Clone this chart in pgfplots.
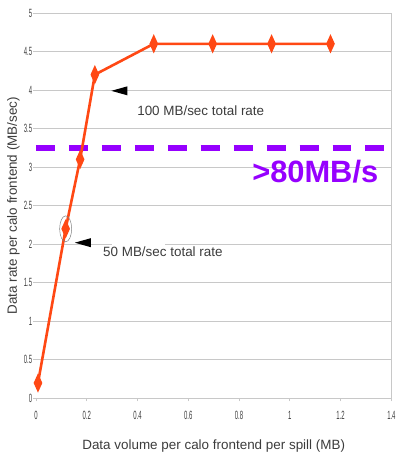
\documentclass[border=0pt]{standalone}
\usepackage{pgfplots}
\pgfplotsset{compat=1.18}
\usepackage{fontspec}
\setmainfont{Liberation Sans}
\usetikzlibrary{arrows.meta}
\definecolor{lineorange}{RGB}{255,72,20}
\definecolor{purp}{RGB}{150,0,255}
\definecolor{gridgray}{RGB}{200,200,200}
\definecolor{txtgray}{RGB}{60,60,60}
\begin{document}
\begin{tikzpicture}
\begin{axis}[
  scale only axis,
  width=356bp, height=386bp,
  xmin=0, xmax=1.4, ymin=0, ymax=5,
  xtick={0,0.2,0.4,0.6,0.8,1,1.2,1.4},
  ytick={0,0.5,1,1.5,2,2.5,3,3.5,4,4.5,5},
  xticklabels={0,0.2,0.4,0.6,0.8,1,1.2,1.4},
  yticklabels={0,0.5,1,1.5,2,2.5,3,3.5,4,4.5,5},
  ymajorgrids,
  grid style={draw=gridgray, line width=0.9bp},
  axis line style={draw=none},
  tick align=outside,
  major tick length=3bp,
  tick style={draw=gridgray, line width=0.8bp},
  xtick pos=bottom, ytick pos=left,
  tick label style={font=\fontsize{12}{13}\selectfont, text=txtgray, xscale=0.5},
  xticklabel style={yshift=-6bp},
  yticklabel style={xshift=2bp},
  xlabel={Data volume per calo frontend per spill (MB)},
  ylabel={Data rate per calo frontend (MB/sec)},
  label style={font=\fontsize{13.5}{15}\selectfont, text=txtgray},
  xlabel style={yshift=-14bp},
  ylabel style={yshift=-1bp},
  clip=false,
]
% right and bottom frame
\draw[gridgray, line width=1bp] (axis cs:1.4,0) -- (axis cs:1.4,5);
\draw[gridgray, line width=1bp] (axis cs:0,0) -- (axis cs:1.4,0);
% white box behind 50 MB label (interrupts gridline)
\fill[white] (axis cs:0.30,1.97) rectangle (axis cs:0.508,2.03);
% dashed threshold line
\addplot[purp, line width=5.5bp, dash pattern=on 19bp off 14bp, forget plot] coordinates {(0,3.25) (1.42,3.25)};
% data
\addplot[lineorange, line width=2.6bp, mark=diamond*, mark size=6.5bp,
  mark options={xscale=0.6, solid}] coordinates {
  (0.008,0.2) (0.117,2.2) (0.174,3.1) (0.232,4.2) (0.464,4.6) (0.696,4.6) (0.928,4.6) (1.16,4.6)
};
% ellipse around point
\draw[gray, line width=0.5bp] (axis cs:0.117,2.2) ellipse [x radius=6bp, y radius=13bp];
% arrows
\fill[black] (axis cs:0.297,3.99) -- ++(16bp,4.5bp) -- ++(0,-9bp) -- cycle;
\fill[black] (axis cs:0.153,2.02) -- ++(16bp,4.5bp) -- ++(0,-9bp) -- cycle;
% annotations
\node[font=\fontsize{13.5}{15}\selectfont, text=txtgray] at (axis cs:0.649,3.73) {100 MB/sec total rate};
\node[font=\fontsize{13.5}{15}\selectfont, text=txtgray] at (axis cs:0.50,1.90) {50 MB/sec total rate};
\node[font=\fontsize{31}{34}\selectfont\bfseries, text=purp] at (axis cs:1.10,2.94) {>80MB/s};
\end{axis}
\path (current axis.south west) ++(-36bp,-57bp) coordinate (bbA);
\path (current axis.north east) ++(5bp,13bp) coordinate (bbB);
\useasboundingbox (bbA) rectangle (bbB);
\end{tikzpicture}
\end{document}
